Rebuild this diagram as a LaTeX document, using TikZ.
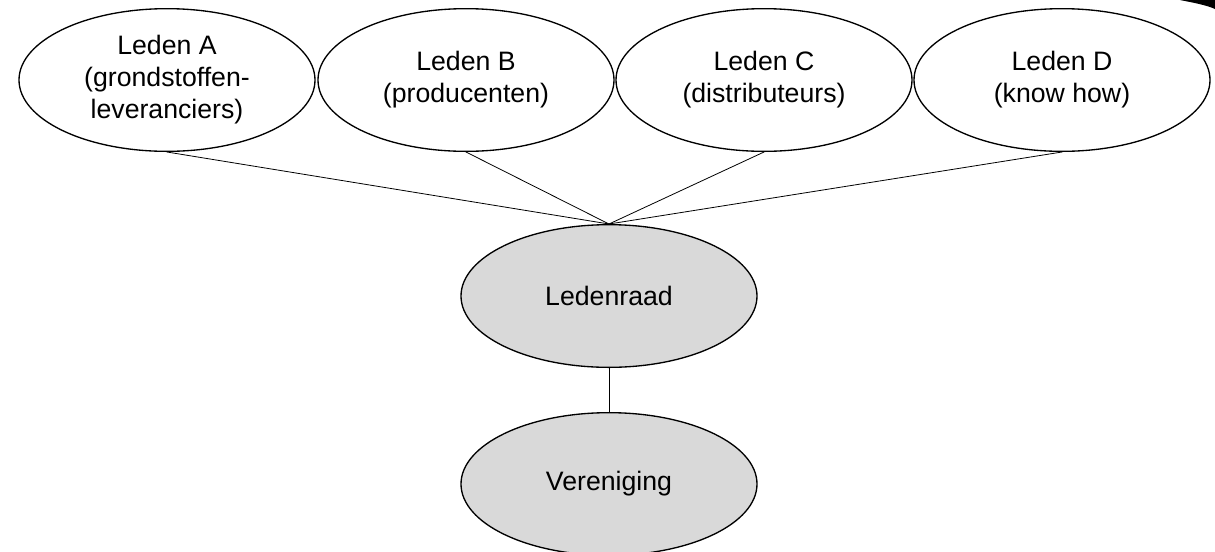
\documentclass[tikz,border=0pt]{standalone}
\usepackage{fontspec}
\setmainfont{Liberation Sans}
\usetikzlibrary{shapes.geometric}
\tikzset{
  leden/.style={ellipse,draw,line width=1pt,inner sep=0pt,minimum width=222pt,minimum height=107pt,align=center,font=\fontsize{20}{24}\selectfont},
  raad/.style={leden,fill=black!15},
  lijn/.style={line width=0.6pt}
}
\begin{document}
\begin{tikzpicture}[x=0.75pt,y=-0.75pt]
  \useasboundingbox (0,0) rectangle (1215,551);
  % leden
  \node[leden] (A) at (167,80) {Leden A\\(grondstoffen-\\leveranciers)};
  \node[leden] (B) at (466,80) {Leden B\\(producenten)};
  \node[leden] (C) at (764,80) {Leden C\\(distributeurs)};
  \node[leden] (D) at (1062,80) {Leden D\\(know how)};
  % raad en vereniging
  \node[raad] (R) at (609,296) {Ledenraad};
  \node[raad] (V) at (609,484) {Vereniging};
  \foreach \l in {A,B,C,D}
    \draw[lijn] (\l.south) -- (R.north);
  \draw[lijn] (R.south) -- (V.north);
  % rand rechtsboven
  \fill (1180,0) .. controls (1195,3) and (1206,5) .. (1215,9) -- (1215,0) -- cycle;
\end{tikzpicture}
\end{document}
